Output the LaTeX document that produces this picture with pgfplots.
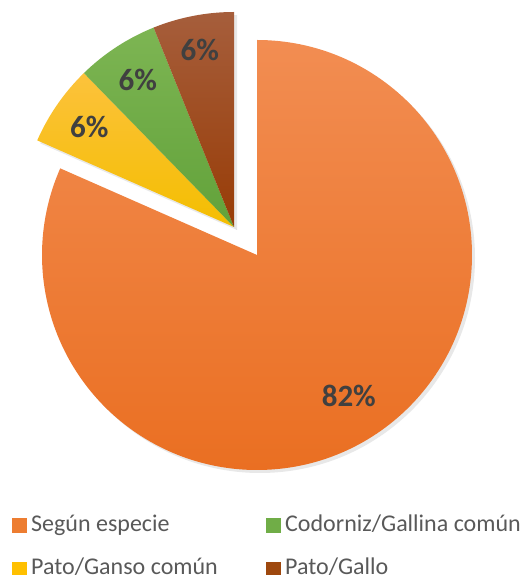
\documentclass[border=0pt]{standalone}
\usepackage{fontspec}
\setmainfont{Carlito}
\usepackage{pgfplots}
\pgfplotsset{compat=1.18}
\usetikzlibrary{shadows}
\definecolor{orTop}{HTML}{F28D52}
\definecolor{orBot}{HTML}{EA6F22}
\definecolor{yeTop}{HTML}{FCC23C}
\definecolor{yeBot}{HTML}{F4BE00}
\definecolor{grTop}{HTML}{7DB553}
\definecolor{grBot}{HTML}{62A23A}
\definecolor{brTop}{HTML}{A65E3C}
\definecolor{brBot}{HTML}{983C06}
\definecolor{legOr}{HTML}{ED7D31}
\definecolor{legYe}{HTML}{FFC000}
\definecolor{legGr}{HTML}{70AD47}
\definecolor{legBr}{HTML}{9E480E}
\definecolor{lbl}{HTML}{404040}
\definecolor{legtxt}{HTML}{595959}
% data (percent)
\def\vA{81.6}% Segun especie
\def\vB{6.1}% Pato/Ganso comun
\def\vC{6.2}% Codorniz/Gallina comun
\def\vD{6.1}% Pato/Gallo
\pgfmathsetmacro\aA{90-3.6*\vA}
\pgfmathsetmacro\aB{\aA-3.6*\vB}
\pgfmathsetmacro\aC{\aB-3.6*\vC}
\pgfmathsetmacro\aD{\aC-3.6*\vD}
\pgfmathsetmacro\mA{(90+\aA)/2}
\pgfmathsetmacro\mB{(\aA+\aB)/2}
\pgfmathsetmacro\mC{(\aB+\aC)/2}
\pgfmathsetmacro\mD{(\aC+\aD)/2}
\begin{document}
\begin{tikzpicture}
\begin{axis}[name=pie, scale only axis, width=523pt, height=575pt,
  xmin=0, xmax=523, ymin=0, ymax=575, hide axis, clip=false]
% main slice
\path[drop shadow={opacity=0.18, shadow xshift=3pt, shadow yshift=-3pt},
  top color=orTop, bottom color=orBot]
  (axis cs:257,320) -- ++(90:215pt) arc[start angle=90, end angle=\aA, radius=215pt] -- cycle;
% exploded slices
\path[drop shadow={opacity=0.18, shadow xshift=3pt, shadow yshift=-3pt},
  top color=yeTop, bottom color=yeBot]
  (axis cs:234,348) -- ++(\aA:215pt) arc[start angle=\aA, end angle=\aB, radius=215pt] -- cycle;
\path[drop shadow={opacity=0.18, shadow xshift=3pt, shadow yshift=-3pt},
  top color=grTop, bottom color=grBot]
  (axis cs:234,348) -- ++(\aB:215pt) arc[start angle=\aB, end angle=\aC, radius=215pt] -- cycle;
\path[drop shadow={opacity=0.18, shadow xshift=3pt, shadow yshift=-3pt},
  top color=brTop, bottom color=brBot]
  (axis cs:234,348) -- ++(\aC:215pt) arc[start angle=\aC, end angle=\aD, radius=215pt] -- cycle;
% labels
\tikzset{pct/.style={text=lbl, font=\fontsize{31}{33}\selectfont\bfseries}}
\path (axis cs:257,320) ++(\mA:168pt) node[pct] {82\%};
\path (axis cs:234,348) ++(\mB:176pt) node[pct] {6\%};
\path (axis cs:234,348) ++(\mC:176pt) node[pct] {6\%};
\path (axis cs:234,348) ++(\mD:180pt) node[pct] {6\%};
% legend
\tikzset{leg/.style={anchor=base west, inner sep=0pt, text=legtxt, font=\fontsize{24}{26}\selectfont}}
\fill[legOr] (axis cs:12,42) rectangle (axis cs:27,57);
\node[leg] at (axis cs:31,43) {Según especie};
\fill[legGr] (axis cs:266,42) rectangle (axis cs:281,57);
\node[leg] at (axis cs:285,43) {Codorniz/Gallina común};
\fill[legYe] (axis cs:12,-2) rectangle (axis cs:27,13);
\node[leg] at (axis cs:31,0) {Pato/Ganso común};
\fill[legBr] (axis cs:266,-2) rectangle (axis cs:281,13);
\node[leg] at (axis cs:285,0) {Pato/Gallo};
\end{axis}
\pgfresetboundingbox
\path (pie.south west) rectangle (pie.north east);
\end{tikzpicture}
\end{document}
